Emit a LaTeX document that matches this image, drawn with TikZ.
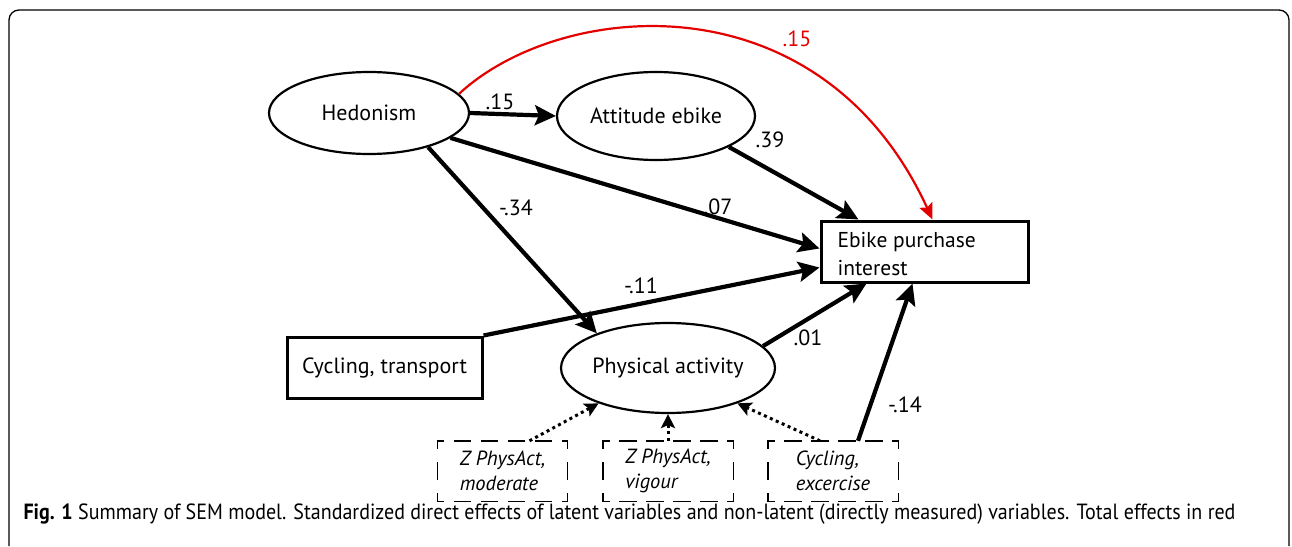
\documentclass[tikz,border=0pt]{standalone}
\usepackage{fontspec}
\setmainfont{PT Sans}
\usetikzlibrary{arrows.meta,shapes.geometric}
\begin{document}
\begin{tikzpicture}[x=1pt,y=-1pt,
  lat/.style={draw,ellipse,line width=2.2pt,minimum width=#1,minimum height=84pt,font=\fontsize{22}{26}\selectfont,inner sep=0pt},
  obs/.style={draw,rectangle,line width=3pt,font=\fontsize{22}{26}\selectfont,inner sep=0pt},
  ind/.style={rectangle,minimum width=130pt,minimum height=60pt,font=\fontsize{20.5}{25}\selectfont\itshape,align=left,inner sep=0pt},
  hdash/.style={line width=1.4pt,line cap=rect,dash pattern=on 6pt off 11pt on 16pt off 11pt on 16pt off 11pt on 16pt off 11pt on 16pt off 11pt on 5pt off 100pt},
  vdash/.style={line width=1.4pt,line cap=rect,dash pattern=on 7pt off 15pt on 16pt off 15pt on 7pt off 100pt},
  eff/.style={line width=4.2pt,-{Stealth[length=21pt,width=20pt,inset=4pt]}},
  load/.style={line width=3pt,dash pattern=on 3pt off 3.5pt,-{Stealth[length=14pt,width=14pt,inset=3pt]}},
  tot/.style={line width=2.2pt,red!90!black,-{Stealth[length=16pt,width=14pt,inset=3pt]}},
  lab/.style={font=\fontsize{22}{26}\selectfont}
]
\useasboundingbox (0,0) rectangle (1292,546);
\draw[line width=1.3pt,rounded corners=10pt] (9,546) -- (9,10) -- (1289,10) -- (1289,546);

\node[lat=200pt,minimum height=82pt] (hed) at (369,113) {Hedonism};
\node[lat=198pt,minimum height=88pt] (att) at (656,116) {Attitude ebike};
\node[lat=198pt,minimum height=90pt] (phys) at (668,368) {Physical activity};
\node[obs,minimum width=207pt,minimum height=61pt] (ebike) at (924.5,251.5) {};
\node[font=\fontsize{21.5}{28}\selectfont,align=left,anchor=west] (ebiketxt) at (834,254) {Ebike purchase\\interest};
\node[obs,minimum width=195pt,minimum height=61pt] (ctrans) at (384.5,367.5) {Cycling, transport};

\node[ind] (zmod) at (502.5,471) {Z PhysAct,\\moderate};
\node[ind] (zvig) at (668,471) {Z PhysAct,\\vigour};
\node[ind] (cex) at (833,471) {Cycling,\\excercise};
\foreach \b in {zmod,zvig,cex}{
  \draw[hdash] (\b.north west) -- (\b.north east);
  \draw[hdash] (\b.south west) -- (\b.south east);
  \draw[vdash] (\b.north west) -- (\b.south west);
  \draw[vdash] (\b.north east) -- (\b.south east);
}

\draw[eff] (hed.east) -- (att.west);
\draw[eff] (hed.-17) -- ([yshift=3pt]ebike.west);
\draw[eff] (hed.-30) -- (phys.154);
\draw[eff] (att.-23) -- ([xshift=-66pt]ebike.north);
\draw[eff] (ctrans.north east) -- ([yshift=-16pt]ebike.west);
\draw[eff] (phys.13) -- ([xshift=-58pt]ebike.south);
\draw[eff] ([xshift=25pt]cex.north) -- ([xshift=-12pt]ebike.south);

\draw[load] ([xshift=27pt]zmod.north) -- (phys.-153);
\draw[load] (zvig.north) -- (phys.south);
\draw[load] ([xshift=-13pt]cex.north) -- (phys.-27);

\draw[tot] (hed.12) .. controls (560,0) and (820,-25) .. ([xshift=8pt]ebike.north);

\node[lab] at (500,102) {.15};
\node[lab] at (770,140) {.39};
\node[lab] at (718,207) {.07};
\node[lab] at (516,208) {-.34};
\node[lab] at (641,286) {-.11};
\node[lab] at (808,338) {.01};
\node[lab] at (905,405) {-.14};
\node[lab,text=red!90!black] at (797,39) {.15};

\node[anchor=west,font=\fontsize{22}{26}\selectfont] (cap) at (20,514) {\scalebox{0.91}[1]{\textbf{Fig. 1} Summary of SEM model. Standardized direct effects of latent variables and non-latent (directly measured) variables. Total effects in red}};
\end{tikzpicture}
\end{document}
